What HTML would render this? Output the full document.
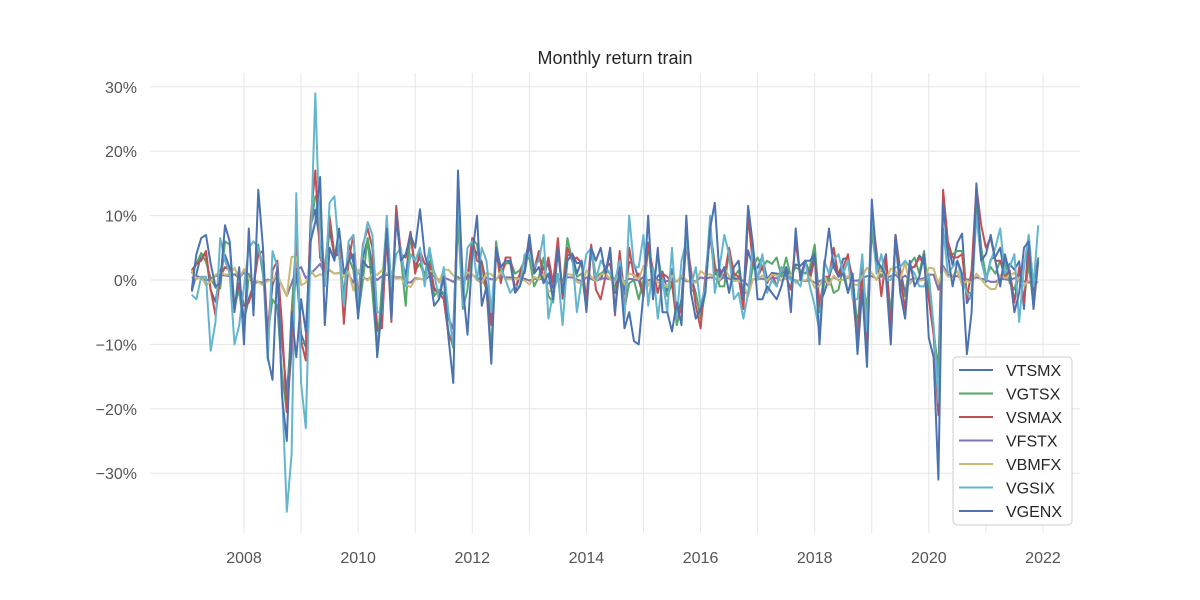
<!DOCTYPE html>
<html><head><meta charset="utf-8"><style>
html,body{margin:0;padding:0;background:#fff;}
svg{display:block;font-family:"Liberation Sans",sans-serif;}
</style></head><body>
<svg id="chart" width="1200" height="600" viewBox="0 0 1200 600" xmlns="http://www.w3.org/2000/svg">
<text x="615" y="64" text-anchor="middle" font-size="18" fill="#262626">Monthly return train</text>
<g id="grid"></g>
<g id="series"></g>
<g id="legend"></g>
</svg>
<script>
const seriesNames = ["VTSMX","VGTSX","VSMAX","VFSTX","VBMFX","VGSIX","VGENX"];
const seriesColors = ["#4c72b0","#55a868","#c44e52","#8172b2","#ccb974","#64b5cd","#4c72b0"];
const yTicks = [30,20,10,0,-10,-20,-30];
const yTickLabels = ["30%","20%","10%","0%","\u221210%","\u221220%","\u221230%"];
const xTicks = [2008,2010,2012,2014,2016,2018,2020,2022];
const xGridYears = [2008,2009,2010,2011,2012,2013,2014,2015,2016,2017,2018,2019,2020,2021,2022];
const startYear = 2007, startMonth = 2;
const VTSMX = [-1.8,0.9,4.0,3.8,-1.6,-3.4,1.3,3.9,1.9,-4.6,-0.6,
-6.2,-2.9,-0.8,5.1,2.0,-8.2,-0.8,1.6,-9.4,-17.6,-8.0,1.7,
-8.4,-10.4,8.5,10.9,5.6,0.3,7.9,3.6,4.1,-2.6,5.6,2.7,
-3.5,3.4,6.4,2.1,-7.9,-5.6,7.0,-4.6,9.4,3.9,0.5,6.8,
2.1,3.6,0.4,2.9,-1.3,-1.8,-2.3,-6.0,-7.6,11.4,-0.2,0.8,
5.1,4.2,2.8,-0.7,-6.2,3.9,1.0,2.6,2.6,-1.8,0.8,1.1,
5.5,1.3,3.9,1.6,2.4,-1.3,5.6,-2.9,3.8,4.1,2.6,2.7,
-3.2,4.9,0.5,0.1,2.1,2.5,-2.0,4.2,-2.2,2.8,2.5,0.0,
-2.6,5.8,-1.2,0.6,1.3,-1.7,1.7,-6.0,-3.0,7.8,0.6,-2.1,
-5.7,-0.1,7.0,0.8,1.8,0.3,4.0,0.3,0.2,-2.1,4.6,2.0,
1.9,3.7,0.1,1.1,1.0,0.9,1.9,0.2,2.4,2.2,3.0,1.0,
5.2,-3.7,-2.0,0.4,2.8,0.7,3.3,3.4,0.2,-7.4,1.9,-9.2,
8.6,3.5,1.4,4.0,-6.5,7.0,1.5,-2.1,1.7,2.1,3.8,2.9,
-0.1,-8.2,-13.9,13.2,5.4,2.3,5.8,7.2,-3.6,-2.1,11.9,4.7,
-0.3,3.2,3.6,5.0,0.4,2.5,1.6,2.9,-4.5,6.8,-1.6,3.5];
const VGTSX = [1.0,2.5,4.2,2.8,0.3,-1.2,-1.3,6.0,5.5,-4.0,-1.5,
-8.0,1.0,-0.9,5.5,0.8,-8.5,-3.0,-4.0,-14.5,-20.5,-5.0,6.5,
-10.0,-9.5,8.2,13.0,12.0,-1.0,10.0,4.0,4.5,-2.5,3.5,1.5,
-5.5,0.0,6.5,-1.8,-11.0,-1.0,9.0,-3.5,10.0,3.5,-4.0,7.5,
1.5,2.5,0.5,5.0,-2.5,-1.5,-2.0,-8.0,-10.5,9.5,-4.5,-1.5,
6.5,5.5,0.5,-1.5,-11.0,6.0,1.0,2.5,3.0,1.0,1.5,3.0,
3.5,-1.0,0.5,3.5,-2.5,-3.5,4.5,-1.5,6.5,3.0,0.5,1.0,
-4.5,5.0,0.5,1.0,1.5,1.0,-1.5,0.5,-4.5,-0.5,0.0,-3.0,
0.0,5.5,-1.5,4.0,-0.5,-2.5,-0.5,-7.0,-4.0,6.5,-1.5,-2.0,
-6.0,-2.0,8.0,2.5,-1.0,-1.0,4.5,0.5,1.5,-2.0,-2.0,2.0,
3.5,2.0,3.0,2.5,3.5,0.5,3.5,0.5,2.0,1.5,1.0,2.0,
5.5,-5.0,-0.5,0.5,-2.0,-1.5,2.0,-2.0,0.5,-8.0,0.5,-4.5,
7.5,2.0,0.5,2.5,-5.5,6.0,-1.5,-2.5,2.5,3.5,1.0,4.5,
-2.5,-7.5,-15.0,7.5,4.5,4.0,4.5,4.5,-2.0,-2.0,12.5,5.0,
0.5,2.0,1.0,3.0,3.0,-0.5,-1.5,1.5,-3.0,2.5,-4.0,3.5];
const VSMAX = [1.5,2.5,3.0,4.5,-1.5,-5.5,0.5,2.0,1.5,-4.0,-0.5,
-4.0,-3.5,-1.0,4.0,4.5,-8.5,1.5,3.0,-7.0,-20.5,-11.0,6.0,
-9.5,-12.5,9.5,17.0,3.5,1.5,9.5,3.5,5.5,-6.8,3.0,7.0,
-3.0,5.5,8.0,5.0,-7.5,-7.5,7.0,-6.5,11.5,4.0,3.5,7.5,
1.0,4.5,2.5,2.5,-1.5,-2.0,-3.0,-8.5,-10.0,14.5,0.0,0.5,
6.5,3.0,2.5,-1.5,-7.0,5.0,-0.5,3.5,3.5,-1.5,1.0,3.0,
6.0,1.5,4.5,0.0,3.5,-0.5,6.5,-2.5,5.0,3.0,3.5,2.5,
-3.0,5.5,-1.5,-3.0,0.5,4.5,-5.5,4.5,-5.0,5.0,0.5,1.0,
-2.5,5.5,1.5,-2.0,1.0,0.5,-0.5,-6.0,-4.5,6.0,1.5,-4.0,
-7.5,0.5,8.0,1.5,1.5,0.5,5.0,1.0,0.5,-4.5,10.0,2.5,
0.5,2.0,-0.5,1.0,-1.0,2.0,0.5,-1.5,6.0,0.5,3.0,0.0,
3.5,-4.0,0.5,0.5,5.0,0.5,2.0,4.0,-2.0,-10.0,2.0,-12.0,
10.5,4.5,-2.5,3.5,-7.5,7.0,0.5,-4.5,2.0,2.0,3.5,2.5,
-3.0,-8.5,-21.0,14.0,6.0,3.5,3.5,4.0,-3.0,1.5,14.5,8.5,
5.0,6.5,3.0,3.0,0.5,1.5,-3.5,2.0,-3.5,4.5,-3.5,3.0];
const VFSTX = [0.3,0.6,0.4,-0.1,0.2,0.6,0.8,0.7,0.6,0.9,0.3,
1.2,0.3,-0.5,-0.3,-0.4,0.1,-0.2,0.5,-0.9,-2.5,-0.5,1.5,
2.0,0.3,1.0,1.7,2.5,0.9,1.5,1.0,1.1,0.5,0.9,-0.4,
1.2,0.4,0.1,0.7,0.0,0.6,0.8,0.6,0.4,0.4,-0.3,-0.4,
0.3,0.2,0.0,0.6,0.6,0.0,0.4,0.1,-0.3,0.5,-0.3,0.3,
0.8,0.3,0.1,0.4,0.1,0.2,0.6,0.4,0.4,0.3,0.3,0.2,
-0.1,0.2,0.1,0.3,-0.5,-0.6,0.3,-0.2,0.4,0.4,0.1,-0.2,
0.4,0.2,-0.2,0.2,0.3,0.1,-0.1,0.2,-0.2,0.2,0.1,-0.1,
0.5,-0.1,0.2,0.0,0.0,-0.2,0.1,-0.2,0.3,-0.2,-0.2,-0.2,
0.4,0.2,0.4,0.3,-0.1,0.6,0.2,0.0,0.1,-0.1,-0.9,0.1,
0.2,0.2,0.0,0.3,0.3,-0.1,0.3,0.3,-0.2,0.0,-0.2,0.0,
-0.4,-0.2,0.2,-0.2,0.4,0.0,0.0,0.4,-0.1,-0.1,0.3,0.6,
0.6,0.2,0.7,0.3,0.6,0.8,0.1,0.7,0.0,0.3,0.1,0.3,
0.8,0.8,-1.5,2.2,0.9,0.5,0.6,0.1,0.1,0.0,0.4,0.2,
0.0,-0.3,-0.3,0.2,0.1,0.0,0.3,0.0,-0.2,-0.4,-0.1,-0.4];
const VBMFX = [1.5,0.1,0.5,-0.8,-0.3,0.8,1.2,0.8,0.9,1.9,0.2,
1.7,0.2,0.1,-0.3,-0.8,-0.1,-0.1,1.0,-1.0,-2.5,3.6,3.6,
-0.8,-0.4,1.5,0.5,0.9,0.6,1.6,1.0,1.1,0.5,1.3,-1.6,
1.6,0.4,-0.1,1.0,0.8,1.5,1.0,1.3,0.2,0.3,-0.7,-1.1,
0.1,0.2,0.0,1.4,1.3,-0.4,1.6,1.6,0.7,0.1,-0.1,1.2,
0.9,0.0,-0.5,1.1,0.9,0.0,1.3,0.1,0.1,0.2,0.2,-0.1,
-0.7,0.5,0.1,1.0,-1.8,-1.6,0.1,-0.7,0.9,0.8,-0.3,-0.6,
1.5,0.5,-0.2,0.8,1.1,0.1,-0.2,1.1,-0.6,1.0,0.7,0.1,
2.2,-0.9,0.5,-0.4,-0.3,-1.1,0.7,-0.3,0.7,0.0,-0.3,-0.4,
1.4,0.8,0.9,0.4,0.0,1.8,0.6,-0.2,-0.1,-0.8,-2.5,0.1,
0.2,0.7,-0.1,0.8,0.7,-0.1,0.4,0.9,-0.5,0.1,-0.1,0.5,
-1.2,-0.9,0.6,-0.8,0.7,-0.1,0.0,0.6,-0.6,-0.8,0.6,1.9,
1.1,0.0,1.9,0.0,1.8,1.3,0.2,2.7,-0.6,0.3,-0.1,0.0,
1.9,1.8,-0.6,1.8,0.5,0.7,1.4,-0.8,-0.1,-0.5,1.0,0.1,
-0.8,-1.4,-1.4,0.8,0.3,0.7,1.1,-0.2,-0.9,-0.1,0.3,-0.4];
const VGSIX = [-2.3,-3.0,0.5,0.5,-11.0,-6.5,6.5,3.0,1.0,-10.0,-7.0,
-1.0,5.0,6.0,5.0,2.0,-12.5,4.5,2.0,-17.0,-36.0,-27.0,13.5,
-16.0,-23.0,5.0,29.0,5.0,-1.0,12.0,13.0,4.0,-4.0,6.0,7.0,
-4.0,5.0,9.0,7.0,-5.0,-5.0,10.0,-1.0,4.0,5.0,-1.0,4.0,
3.0,5.0,-1.0,5.0,1.0,-3.0,2.0,-5.0,-10.0,13.0,-4.0,5.0,
6.0,0.0,5.0,3.0,-5.0,5.0,2.0,0.0,-2.0,-1.0,-1.0,4.0,
4.0,2.0,3.0,7.0,-6.0,-2.0,1.0,-7.0,3.0,4.0,-5.0,0.0,
4.0,5.0,0.0,3.0,2.0,1.0,0.0,3.0,-6.0,10.0,2.0,2.0,
7.0,-4.0,2.0,-6.0,0.0,-5.0,5.0,-6.0,3.0,6.0,-1.0,2.0,
-4.0,-1.0,10.0,-2.0,2.0,7.0,4.0,-3.0,-2.0,-6.0,-2.0,5.0,
0.0,4.0,-2.0,0.0,-1.0,2.0,1.0,0.0,0.0,-1.0,3.0,-1.0,
-4.0,-8.0,3.0,1.0,3.0,4.0,1.0,3.0,-3.0,-3.0,4.0,-8.0,
11.0,1.0,4.0,0.0,0.0,2.0,2.0,3.0,2.0,1.0,-1.0,-1.0,
1.0,-7.0,-19.0,8.0,1.0,2.0,3.0,0.0,-2.0,-3.0,10.0,3.0,
0.0,3.0,5.0,8.0,1.0,2.0,4.0,-6.5,2.0,7.0,-1.0,8.5];
const VGENX = [-1.5,4.0,6.5,7.0,2.5,-1.0,-0.5,8.5,6.0,-5.0,2.0,
-10.0,8.0,-5.5,14.0,5.0,-12.0,-15.5,2.0,-18.0,-25.0,-5.0,-12.0,
-3.0,-8.0,6.0,9.0,16.0,-7.0,5.0,3.0,8.0,1.0,3.0,4.0,
-6.0,3.0,2.0,2.0,-12.0,-4.0,8.0,-6.0,10.0,3.0,4.0,7.0,
5.0,11.0,4.0,1.0,-4.0,-3.0,0.5,-9.0,-16.0,17.0,-1.0,-8.5,
4.0,10.0,-4.0,-1.0,-13.0,5.0,2.0,3.0,3.0,-2.0,-1.0,1.5,
7.0,1.0,2.0,-0.5,1.0,-3.0,5.0,-2.0,3.0,4.0,1.0,3.0,
-5.0,5.0,3.0,5.0,1.0,5.0,-5.0,2.0,-7.5,-5.0,-9.5,-10.0,
-2.0,10.0,-3.0,5.0,-5.0,-5.0,-8.0,-3.5,-7.0,10.0,-2.0,-6.0,
-4.5,-2.0,8.0,12.0,0.5,2.0,-2.0,2.0,3.0,-3.0,11.5,5.5,
-3.0,-3.0,-1.0,-2.0,-3.0,-1.0,2.0,-5.0,8.0,0.0,3.0,3.0,
4.0,-10.0,2.0,8.0,2.0,0.5,1.0,-2.0,1.0,-11.5,-1.5,-13.5,
12.5,3.0,2.0,0.5,-10.0,7.0,-2.0,-6.0,3.0,-1.0,0.5,4.0,
-9.0,-12.0,-31.0,12.0,4.0,-1.0,3.0,1.0,-11.5,-5.0,15.0,3.0,
4.0,7.0,3.0,-1.0,4.0,1.0,-5.0,-2.0,5.0,6.0,-4.5,3.0];
const allSeries = [VTSMX,VGTSX,VSMAX,VFSTX,VBMFX,VGSIX,VGENX];

const NS = "http://www.w3.org/2000/svg";
function xScale(t){ return 244 + (t - 2008) * 57.07; }
function yScale(v){ return 280 - v * 6.44; }
function mk(tag, attrs, parent){ const e=document.createElementNS(NS,tag); for(const k in attrs) e.setAttribute(k,attrs[k]); parent.appendChild(e); return e; }

const grid = document.getElementById('grid');
yTicks.forEach((v,i)=>{
  const l = mk('line',{x1:150,x2:1080,y1:yScale(v),y2:yScale(v),stroke:'#e6e6e6','stroke-width':1},grid);
  
  
  const t = mk('text',{x:137,y:yScale(v)+6,'text-anchor':'end','font-size':16,fill:'#555'},grid);
  t.textContent = yTickLabels[i];
  
  
});
xGridYears.forEach(yr=>{
  const l = mk('line',{x1:xScale(yr),x2:xScale(yr),y1:73,y2:533,stroke:'#e6e6e6','stroke-width':1},grid);
  
  
});
xTicks.forEach(yr=>{
  const t = mk('text',{x:xScale(yr),y:563,'text-anchor':'middle','font-size':16,fill:'#555'},grid);
  t.textContent = String(yr);
  
  
});

const sg = document.getElementById('series');
allSeries.forEach((arr,si)=>{
  const pts = arr.map((v,i)=>{
    const t = startYear + (startMonth - 1 + i) / 12;
    return xScale(t).toFixed(1)+','+yScale(v).toFixed(1);
  }).join(' ');
  const p = mk('polyline',{points:pts,fill:'none',stroke:seriesColors[si],'stroke-width':2,'stroke-linejoin':'round'},sg);
  
  
});

const lg = document.getElementById('legend');
const box = mk('rect',{x:953,y:357,width:119,height:168,rx:4,fill:'#fff','fill-opacity':0.85,stroke:'#cccccc','stroke-width':1},lg);


seriesNames.forEach((n,i)=>{
  const y = 370 + i*23.5;
  const l = mk('line',{x1:959,x2:993,y1:y,y2:y,stroke:seriesColors[i],'stroke-width':2},lg);
  
  
  const t = mk('text',{x:1006,y:y+6,'font-size':16,fill:'#262626'},lg);
  t.textContent = n;
  
  
});
</script>
</body></html>
